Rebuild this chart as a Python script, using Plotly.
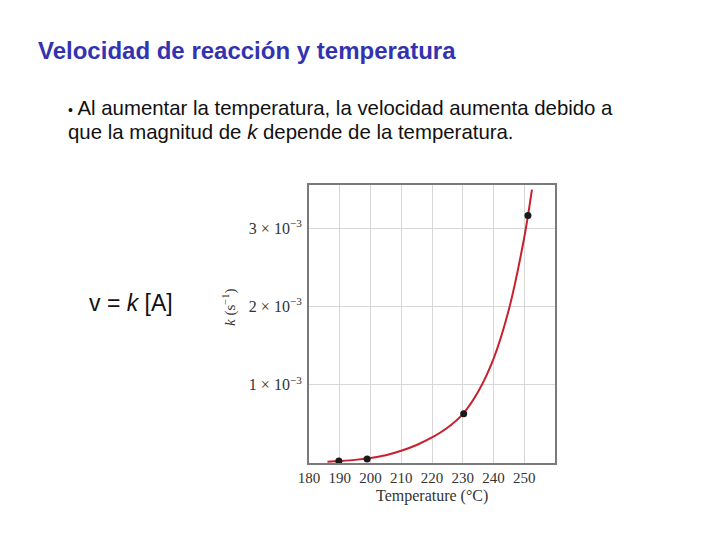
import plotly.graph_objects as go

W, H = 728, 546

# Measured data points (°C, k in s^-1)
temp_points = [189.7, 198.9, 230.3, 251.2]
k_points = [2.52e-5, 5.25e-5, 6.30e-4, 3.16e-3]

# Fitted curve, values
curve_temp = [186.0, 190.0, 195.0, 200.0, 205.0, 210.0, 215.0, 220.0, 225.0, 230.0, 235.0, 240.0, 245.0, 250.0, 252.5]
curve_k = [1.6e-5, 2.5e-5, 4.0e-5, 6.5e-5, 1.0e-4, 1.56e-4, 2.30e-4, 3.26e-4, 4.5e-4, 6.25e-4, 9.1e-4, 1.33e-3, 1.96e-3, 2.88e-3, 3.49e-3]

x_ticks = [180, 190, 200, 210, 220, 230, 240, 250]
y_ticks = [1e-3, 2e-3, 3e-3]
y_tick_text = ["1 × 10<sup>−3</sup>", "2 × 10<sup>−3</sup>", "3 × 10<sup>−3</sup>"]

def px(x):
    return x / W

def py(y):
    return 1 - y / H

fig = go.Figure()
fig.add_trace(go.Scatter(x=curve_temp, y=curve_k, mode="lines",
                         line=dict(color="#c8202e", width=2, shape="spline", smoothing=1.0),
                         hoverinfo="skip", showlegend=False))
fig.add_trace(go.Scatter(x=temp_points, y=k_points, mode="markers",
                         marker=dict(color="#1a1a1a", size=7),
                         showlegend=False, cliponaxis=False))

serif = "Liberation Serif, DejaVu Serif, serif"
fig.update_layout(
    width=W, height=H,
    margin=dict(l=0, r=0, t=0, b=0, autoexpand=False),
    paper_bgcolor="white", plot_bgcolor="white",
    xaxis=dict(domain=[px(309), px(555)], range=[180, 260], automargin=False,
               tickvals=x_ticks, showgrid=True, gridcolor="#d6d6d6", gridwidth=1,
               showline=True, mirror=True, linecolor="#7a7a7a", linewidth=2,
               ticks="", ticklen=0, ticklabelstandoff=0, zeroline=False,
               tickfont=dict(family=serif, size=15, color="#333333")),
    yaxis=dict(domain=[py(463), py(185)], range=[0, 3.55e-3], automargin=False,
               tickvals=y_ticks, ticktext=y_tick_text,
               showgrid=True, gridcolor="#d6d6d6", gridwidth=1,
               showline=True, mirror=True, linecolor="#7a7a7a", linewidth=2,
               ticks="", zeroline=False, ticklabelstandoff=2,
               tickfont=dict(family=serif, size=16, color="#333333")),
    font=dict(family="Liberation Sans, Arial, sans-serif"),
)

annotations = [
    dict(text="<b>Velocidad de reacción y temperatura</b>", x=px(37), y=py(50),
         font=dict(size=24, color="#3333b0", family="Liberation Sans, Arial, sans-serif")),
    dict(text="<span style='font-size:14px'>•</span> Al aumentar la temperatura, la velocidad aumenta debido a",
         x=px(67), y=py(108), font=dict(size=20.4, color="#111111")),
    dict(text="que la magnitud de <i>k</i> depende de la temperatura.",
         x=px(67), y=py(132), font=dict(size=20.4, color="#111111")),
    dict(text="v = <i>k</i> [A]", x=px(88), y=py(303), font=dict(size=23, color="#111111")),
]
for a in annotations:
    fig.add_annotation(xref="paper", yref="paper", xanchor="left", yanchor="middle",
                       showarrow=False, borderpad=0, **a)

fig.add_annotation(text="<i>k</i> (s<sup>−1</sup>)", xref="paper", yref="paper",
                   x=px(229), y=py(308), textangle=-90, showarrow=False,
                   xanchor="center", yanchor="middle",
                   font=dict(family=serif, size=15, color="#333333"))
fig.add_annotation(text="Temperature (°C)", xref="paper", yref="paper",
                   x=px(432), y=py(496), showarrow=False,
                   xanchor="center", yanchor="middle",
                   font=dict(family=serif, size=16, color="#333333"))

fig.write_html("out.html")
